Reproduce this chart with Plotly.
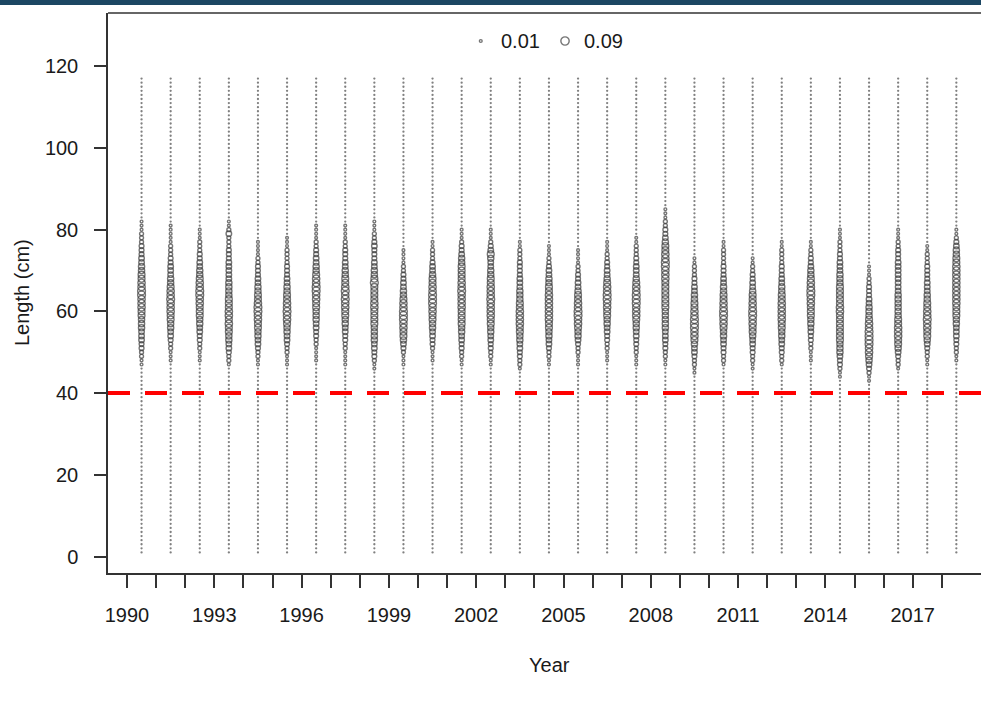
import plotly.graph_objects as go

# Length composition by year (proportion at length, 1-cm bins)
years = list(range(1990, 2019))
sample_offset = 0.5          # samples plotted at mid-year
length_bins = list(range(1, 118))
comp_start_length = 40       # first bin covered by each code string
# one character per 1-cm bin from 40 cm upward; digit = proportion in hundredths
comp_codes = [
    "00000 00112 23344 45556 67778 87766 55443 33222 11100 00000 00000 0",  # 1990
    "00000 00011 12234 45566 77787 76554 44332 22111 11000 00000 00000 0",  # 1991
    "00000 00011 12233 44556 66778 87765 54433 22211 10000 00000 00000 0",  # 1992
    "00000 00122 34455 66767 76665 55544 44433 32224 21100 00000 00000 0",  # 1993
    "00000 00112 23445 56677 88766 55443 33221 11100 00000 00000 00000 0",  # 1994
    "00000 00111 22344 55677 87766 55443 33222 21110 00000 00000 00000 0",  # 1995
    "00000 00011 11223 34455 56677 88776 55443 32211 11000 00000 00000 0",  # 1996
    "00000 00111 12233 44556 67787 87665 54433 32211 11000 00000 00000 0",  # 1997
    "00000 01123 34455 55666 67766 66865 54433 34322 11100 00000 00000 0",  # 1998
    "00000 00111 23456 67788 87765 54433 22111 10000 00000 00000 00000 0",  # 1999
    "00000 00011 12334 45566 77888 77665 44322 21100 00000 00000 00000 0",  # 2000
    "00000 00112 23344 55666 67777 87766 66554 33211 10000 00000 00000 0",  # 2001
    "00000 00112 23344 55667 77787 77665 54456 43211 10000 00000 00000 0",  # 2002
    "00000 01223 34455 66777 76655 54443 33322 21100 00000 00000 00000 0",  # 2003
    "00000 00112 23445 56677 77777 66554 43221 11000 00000 00000 00000 0",  # 2004
    "00000 00111 22345 56778 87766 54433 22111 10000 00000 00000 00000 0",  # 2005
    "00000 00011 12233 44556 67788 77654 43322 11100 00000 00000 00000 0",  # 2006
    "00000 00111 22334 45567 77888 77654 44332 22110 00000 00000 00000 0",  # 2007
    "00000 00112 23344 45555 56666 66677 78877 66543 32211 10000 00000 0",  # 2008
    "00000 11223 44567 78887 76655 44332 22110 00000 00000 00000 00000 0",  # 2009
    "00000 00122 33445 56778 87766 55443 33222 21100 00000 00000 00000 0",  # 2010
    "00000 01122 33445 66778 87766 54433 22110 00000 00000 00000 00000 0",  # 2011
    "00000 00122 33445 56677 77766 55443 33222 21100 00000 00000 00000 0",  # 2012
    "00000 00011 12233 44556 66778 87765 54332 21100 00000 00000 00000 0",  # 2013
    "00001 12334 55566 66666 77666 66555 44433 22211 10000 00000 00000 0",  # 2014
    "00011 23456 77888 87765 55443 33221 11000 00000 00000 00000 00000 0",  # 2015
    "00000 01223 45667 77665 55555 44444 44433 32211 10000 00000 00000 0",  # 2016
    "00000 00112 23456 67787 76655 44433 33222 11000 00000 00000 00000 0",  # 2017
    "00000 00011 22334 44556 66777 77777 77665 54321 10000 00000 00000 0",  # 2018
]
legend_values = [0.01, 0.09]
size_limit = 40              # minimum size reference line (cm)
y_ticks = [0, 20, 40, 60, 80, 100, 120]
x_label_years = list(range(1990, 2018, 3))

FONT = "Arial, 'Liberation Sans', sans-serif"
TEXT = "#1a1a1a"
BUBBLE_REF = 0.0026          # plotly sizeref (area mode)
BUBBLE_LINE = dict(color="#3c3c3c", width=1.4)

# expand the codes into points
bx, by, bv = [], [], []
zx, zy = [], []
for yr, code in zip(years, comp_codes):
    digits = code.replace(" ", "")
    for L in length_bins:
        i = L - comp_start_length
        v = int(digits[i]) / 100.0 if 0 <= i < len(digits) else 0.0
        if v > 0:
            bx.append(yr + sample_offset); by.append(L); bv.append(v)
        else:
            zx.append(yr + sample_offset); zy.append(L)

fig = go.Figure()

# zero-observation bins
fig.add_trace(go.Scatter(
    x=zx, y=zy, mode="markers", hoverinfo="skip",
    marker=dict(symbol="circle", size=2.3, color="#808080", line=dict(width=0)),
))

# observed proportions
fig.add_trace(go.Scatter(
    x=bx, y=by, mode="markers",
    marker=dict(symbol="circle", size=bv, sizemode="area", sizeref=BUBBLE_REF,
                color="rgba(255,255,255,0)", line=BUBBLE_LINE),
    hovertemplate="%{x:.0f}, %{y} cm: %{marker.size:.2f}<extra></extra>",
))

# bubble-size key
fig.add_trace(go.Scatter(
    x=[0.427, 0.5235], y=[0.95, 0.95], xaxis="x2", yaxis="y2", mode="markers",
    hoverinfo="skip",
    marker=dict(symbol="circle", size=legend_values, sizemode="area", sizeref=BUBBLE_REF,
                color="rgba(255,255,255,0)", line=BUBBLE_LINE),
))
for xp, v in zip([0.448, 0.543], legend_values):
    fig.add_annotation(x=xp, y=0.95, xref="paper", yref="paper", text=f"{v:.2f}",
                       showarrow=False, xanchor="left", yanchor="middle",
                       font=dict(family=FONT, size=20, color=TEXT))

# minimum size reference line
fig.add_shape(type="line", xref="paper", yref="y", x0=0, x1=1, y0=size_limit, y1=size_limit,
              line=dict(color="#ff0000", width=4, dash="22px,15px"))

# top frame line
fig.add_shape(type="line", xref="paper", yref="paper", x0=0, x1=1, y0=1, y1=1,
              line=dict(color="#333333", width=1.5))

# header band
fig.add_shape(type="rect", xref="paper", yref="paper", x0=-0.2, x1=1.05,
              ysizemode="pixel", yanchor=1.0232, y0=-5, y1=10,
              line=dict(width=0), fillcolor="#1c4763")

fig.add_annotation(x=-0.0985, y=0.5, xref="paper", yref="paper", text="Length (cm)",
                   textangle=-90, showarrow=False, xanchor="center", yanchor="middle",
                   font=dict(family=FONT, size=20, color=TEXT))
fig.add_annotation(x=0.506, y=-0.164, xref="paper", yref="paper", text="Year",
                   showarrow=False, xanchor="center", yanchor="middle",
                   font=dict(family=FONT, size=20, color=TEXT))

fig.update_layout(
    width=981, height=705, autosize=False,
    margin=dict(l=108, r=0, t=13, b=132, pad=0),
    paper_bgcolor="white", plot_bgcolor="white",
    showlegend=False,
    font=dict(family=FONT, size=20, color=TEXT),
    xaxis=dict(
        range=[1989.347, 2019.347], tickmode="array", tickvals=years,
        ticktext=[str(y) if y in x_label_years else "" for y in years],
        ticks="outside", ticklen=13, tickwidth=1.5, tickcolor="#333333",
        showline=True, linecolor="#333333", linewidth=1.5,
        showgrid=False, zeroline=False, ticklabelstandoff=10,
        tickfont=dict(family=FONT, size=20, color=TEXT),
    ),
    yaxis=dict(
        range=[-4.04, 133.05], tickmode="array", tickvals=y_ticks,
        ticks="outside", ticklen=12, tickwidth=1.5, tickcolor="#333333",
        showline=True, linecolor="#333333", linewidth=1.5,
        showgrid=False, zeroline=False, ticklabelstandoff=12,
        tickfont=dict(family=FONT, size=20, color=TEXT),
    ),
    xaxis2=dict(overlaying="x", range=[0, 1], visible=False, anchor="y2"),
    yaxis2=dict(overlaying="y", range=[0, 1], visible=False, anchor="x2"),
)

fig.write_html("out.html")
